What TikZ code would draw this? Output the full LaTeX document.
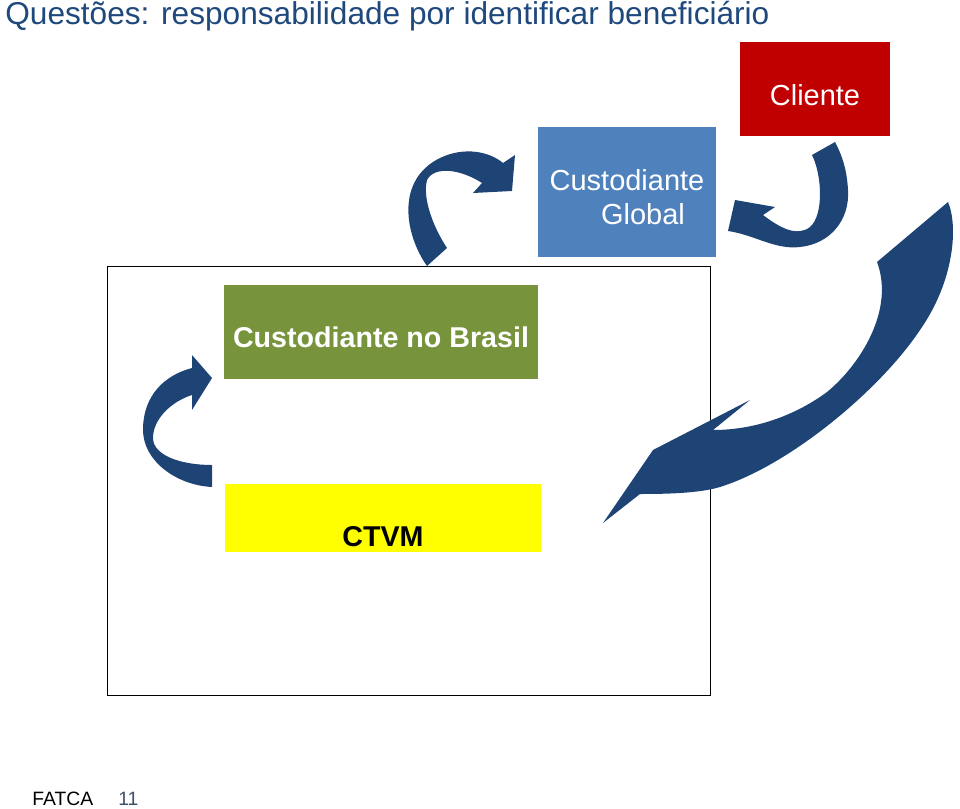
\documentclass[tikz,border=0pt]{standalone}
\usepackage{fontspec}
\setmainfont{Liberation Sans}
\usepackage{xcolor}
\usepackage{tikz}
\usetikzlibrary{positioning}
\definecolor{titleblue}{RGB}{31,73,125}
\definecolor{redbox}{RGB}{192,0,0}
\definecolor{bluebox}{RGB}{79,129,189}
\definecolor{greenbox}{RGB}{119,147,60}
\definecolor{yellowbox}{RGB}{255,255,0}
\definecolor{arrowblue}{RGB}{30,68,118}
\definecolor{pagegray}{RGB}{60,80,105}

\begin{document}
\begin{tikzpicture}[
        x=0.02cm, y=-0.02cm,
        box/.style={inner sep=0pt},
        txt/.style={inner sep=0pt, align=center, text=white,
                    font=\fontsize{16.5}{19.5}\selectfont},
        btxt/.style={inner sep=0pt, align=center,
                     font=\fontsize{16.3}{19.5}\selectfont\bfseries},
        ribbon/.style={fill=arrowblue, draw=none},
        lbl/.style={font=\fontsize{11}{13}\selectfont, inner sep=0pt},
      ]
        \useasboundingbox (0,0) rectangle (960,808);

        % Title
        \node[anchor=west, inner sep=0pt, text=titleblue,
              font=\fontsize{18}{21}\selectfont] (title) at (5,16)
          {Questões: responsabilidade por identificar beneficiário};

        % Outer frame
        \node[draw=black, line width=0.6pt, minimum width=12.08cm,
              minimum height=8.6cm] (frame) at (409,481) {};

        % Boxes
        \node[box, fill=redbox, minimum width=3cm,
              minimum height=1.88cm] (cliente) at (815,89) {};
        \node[box, fill=bluebox, minimum width=3.56cm,
              minimum height=2.6cm] (global) at (627,192) {};
        \node[box, fill=greenbox, minimum width=6.28cm,
              minimum height=1.88cm] (brasil) at (381,332) {};
        \node[box, fill=yellowbox, minimum width=6.32cm,
              minimum height=1.36cm] (ctvm) at (383,518) {};

        % Box texts
        \node[txt] (clientetxt) at ([yshift=-0.12cm]cliente.center) {Cliente};
        \node[txt] (globaltxt) at ([yshift=-0.1cm]global.center)
          {Custodiante\\\hspace*{0.64cm}Global};
        \node[btxt, text=white] (brasiltxt) at ([yshift=-0.1cm]brasil.center)
          {Custodiante no Brasil};
        \node[btxt, text=black] (ctvmtxt) at ([yshift=-0.38cm]ctvm.center)
          {CTVM};

        % Curved arrows
        \fill[ribbon] (427,266) .. controls (405,235) and (395,180) .. (440,158)
          .. controls (465,146) and (490,152) .. (503,163)
          -- (515,155) -- (512,191) -- (473,193) -- (482,183)
          .. controls (462,170) and (435,165) .. (427,180)
          .. controls (422,200) and (435,230) .. (447,248) -- cycle;

        \fill[ribbon] (812,155) .. controls (822,175) and (824,215) .. (810,227)
          .. controls (797,237) and (780,228) .. (763,215)
          -- (775,207) -- (735,200) -- (728,231)
          .. controls (755,235) and (775,250) .. (800,247)
          .. controls (830,244) and (850,220) .. (848,190)
          .. controls (847,170) and (842,155) .. (835,142) -- cycle;

        \fill[ribbon] (877,262) -- (948,202)
          .. controls (958,225) and (955,280) .. (920,330)
          .. controls (880,390) and (790,465) .. (720,487)
          .. controls (700,493) and (670,494) .. (640,494)
          -- (603,523) -- (653,450) -- (750,400) -- (713,430)
          .. controls (760,430) and (800,412) .. (827,392)
          .. controls (860,365) and (895,310) .. (877,262) -- cycle;

        \fill[ribbon] (212,465) -- (212,487)
          .. controls (175,485) and (143,460) .. (143,430)
          .. controls (143,395) and (165,375) .. (192,368)
          -- (192,355) -- (212,378) -- (192,410) -- (192,395)
          .. controls (170,402) and (153,420) .. (153,438)
          .. controls (153,455) and (180,465) .. (212,465) -- cycle;

        % Footer
        \node[lbl, anchor=west] (fatca) at (32,799) {FATCA};
        \node[lbl, anchor=west, text=pagegray] (page) at (118,799) {11};
      \end{tikzpicture}
\end{document}
